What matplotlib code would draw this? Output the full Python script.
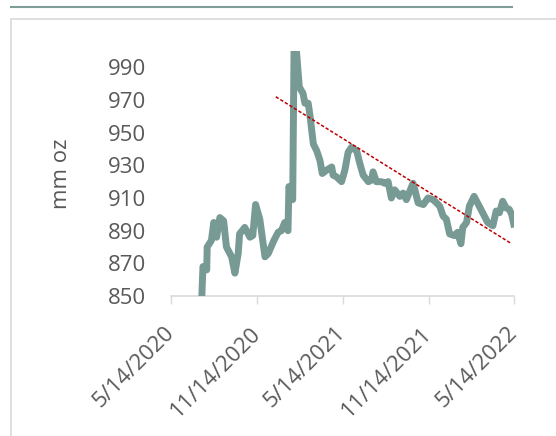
import matplotlib.pyplot as plt
import matplotlib.dates as mdates
from matplotlib.patches import Rectangle
from matplotlib.lines import Line2D
import pandas as pd

# holdings series (mm oz)
dates = ["2020-07-18", "2020-07-21", "2020-07-29", "2020-07-30", "2020-08-08",
         "2020-08-13", "2020-08-19", "2020-08-26", "2020-09-03", "2020-09-09",
         "2020-09-20", "2020-09-27", "2020-10-04", "2020-10-07", "2020-10-18",
         "2020-10-29", "2020-11-04", "2020-11-10", "2020-11-19", "2020-11-30",
         "2020-12-07", "2020-12-19", "2020-12-28", "2021-01-04", "2021-01-11",
         "2021-01-18", "2021-01-20", "2021-01-28", "2021-01-31", "2021-02-05",
         "2021-02-11", "2021-02-19", "2021-02-23", "2021-03-02", "2021-03-06",
         "2021-03-13", "2021-03-20", "2021-03-27", "2021-04-01", "2021-04-10",
         "2021-04-21", "2021-04-24", "2021-05-01", "2021-05-12", "2021-05-19",
         "2021-05-26", "2021-06-02", "2021-06-13", "2021-06-20", "2021-06-27",
         "2021-07-08", "2021-07-15", "2021-07-18", "2021-07-25", "2021-08-05",
         "2021-08-12", "2021-08-19", "2021-08-26", "2021-09-02", "2021-09-13",
         "2021-09-20", "2021-09-27", "2021-10-04", "2021-10-11", "2021-10-15",
         "2021-10-22", "2021-11-02", "2021-11-12", "2021-11-23", "2021-11-30",
         "2021-12-07", "2021-12-14", "2021-12-21", "2021-12-28", "2022-01-07",
         "2022-01-14", "2022-01-21", "2022-01-25", "2022-02-02", "2022-02-08",
         "2022-02-18", "2022-03-01", "2022-03-10", "2022-03-19", "2022-03-30",
         "2022-04-06", "2022-04-13", "2022-04-20", "2022-04-27", "2022-05-04",
         "2022-05-09", "2022-05-15"]
holdings = [845, 868, 866, 880, 884,
            895, 886, 898, 896, 880,
            874, 864, 876, 888, 892,
            886, 887, 906, 897, 874,
            876, 884, 889, 890, 895,
            890, 917, 909, 1005, 1000,
            978, 974, 968, 968, 960,
            943, 939, 933, 925, 927,
            929, 924, 923, 920, 927,
            938, 941, 939, 931, 924,
            920, 921, 926, 920, 920,
            919, 920, 910, 915, 911,
            913, 909, 914, 919, 915,
            907, 906, 910, 909, 907,
            905, 899, 897, 888, 887,
            889, 882, 892, 895, 905,
            911, 905, 900, 895, 893,
            902, 901, 908, 904, 903,
            900, 892]

# linear trend end points
trend_dates = ["2020-12-23", "2022-05-09"]
trend_vals = [972, 882]

y_ticks = [850, 870, 890, 910, 930, 950, 970, 990]
x_ticks = ["2020-05-14", "2020-11-14", "2021-05-14", "2021-11-14", "2022-05-14"]

fig = plt.figure(figsize=(5.56, 4.36), dpi=100)
ax = fig.add_axes([171 / 556, 1 - 296 / 436, (514 - 171) / 556, (296 - 51) / 436])

x = pd.to_datetime(dates)
ax.plot(x, holdings, color="#779A94", lw=5, solid_joinstyle="round",
        solid_capstyle="butt", zorder=3)
ax.plot(pd.to_datetime(trend_dates), trend_vals, color="#C00000", lw=1.1,
        ls=(0, (2.2, 1.3)), zorder=4)

ax.set_ylim(850, 1000)
ax.set_xlim(pd.Timestamp(x_ticks[0]), pd.Timestamp(x_ticks[-1]))
ax.set_yticks(y_ticks)
ax.set_xticks(pd.to_datetime(x_ticks))
ax.xaxis.set_major_formatter(mdates.DateFormatter("%-m/%d/%Y"))

font = "Open Sans"
grey = "#595959"
for lab in ax.get_yticklabels():
    lab.set_fontfamily(font)
ax.tick_params(axis="y", length=0, pad=18, labelsize=16, labelcolor=grey)
ax.tick_params(axis="x", length=5.5, width=1, color="#D9D9D9", pad=19,
               labelsize=16, labelcolor=grey)
plt.setp(ax.get_xticklabels(), rotation=45, ha="right", va="center",
         rotation_mode="anchor", fontfamily=font)
ax.set_ylabel("mm oz", fontsize=16, color=grey, fontfamily=font)
ax.yaxis.set_label_coords((72 - 171) / 343, 0.5)

for s in ["left", "right", "top"]:
    ax.spines[s].set_visible(False)
ax.spines["bottom"].set_color("#D9D9D9")
ax.spines["bottom"].set_linewidth(1.2)

# chart frame and top rule
fig.patches.append(Rectangle((11 / 556, -0.1), 1.0, 1.1 - 19 / 436,
                             transform=fig.transFigure, fill=False,
                             ec="#D9D9D9", lw=1.2))
fig.lines.append(Line2D([11 / 556, 512 / 556], [1 - 7 / 436, 1 - 7 / 436],
                        transform=fig.transFigure, color="#7F9C97", lw=1.5))

fig.savefig("out.png", dpi=100)
